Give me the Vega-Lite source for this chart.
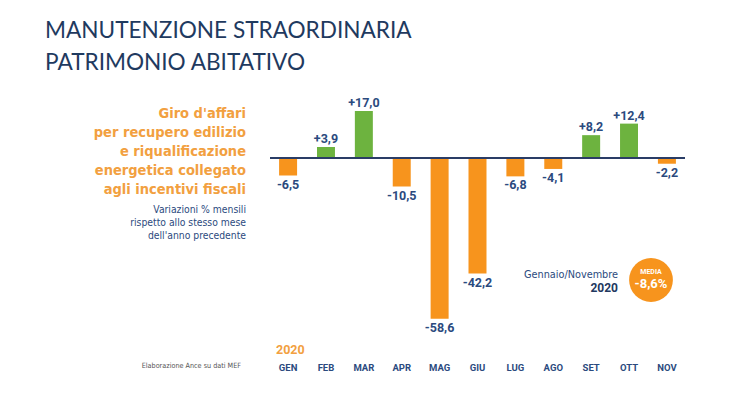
{
  "$schema": "https://vega.github.io/schema/vega-lite/v6.json",
  "autosize": "none",
  "width": 415,
  "height": 261,
  "padding": {"left": 270, "top": 89, "right": 55, "bottom": 48},
  "background": "#ffffff",
  "config": {"view": {"stroke": null}},
  "data": {"values": [
    {"month": "GEN", "value": -6.5, "lbl": "-6,5"},
    {"month": "FEB", "value": 3.9, "lbl": "+3,9"},
    {"month": "MAR", "value": 17.0, "lbl": "+17,0"},
    {"month": "APR", "value": -10.5, "lbl": "-10,5"},
    {"month": "MAG", "value": -58.6, "lbl": "-58,6"},
    {"month": "GIU", "value": -42.2, "lbl": "-42,2"},
    {"month": "LUG", "value": -6.8, "lbl": "-6,8"},
    {"month": "AGO", "value": -4.1, "lbl": "-4,1"},
    {"month": "SET", "value": 8.2, "lbl": "+8,2"},
    {"month": "OTT", "value": 12.4, "lbl": "+12,4"},
    {"month": "NOV", "value": -2.2, "lbl": "-2,2"}
  ]},
  "encoding": {
    "x": {"field": "month", "type": "nominal", "sort": null,
      "scale": {"paddingInner": 0.525, "paddingOuter": 0.24},
      "axis": {"title": null, "orient": "bottom", "domain": false, "ticks": false, "labelAngle": 0,
        "labelPadding": 12, "labelFont": "Roboto", "labelFontSize": 9.5,
        "labelFontWeight": "bold", "labelColor": "#2b4a7e"}},
    "y": {"field": "value", "type": "quantitative",
      "scale": {"domain": [-70, 25], "nice": false, "zero": true}, "axis": null}
  },
  "layer": [
    {"mark": {"type": "bar"},
     "encoding": {"color": {"condition": {"test": "datum.value >= 0", "value": "#6db33f"}, "value": "#f7941d"}}},
    {"transform": [{"filter": "datum.value >= 0"}],
     "mark": {"type": "text", "baseline": "alphabetic", "dy": -4, "font": "Roboto", "fontSize": 12.5, "fontWeight": "bold", "color": "#2b4a7e"},
     "encoding": {"text": {"field": "lbl"}}},
    {"transform": [{"filter": "datum.value < 0"}],
     "mark": {"type": "text", "baseline": "top", "dy": 3, "font": "Roboto", "fontSize": 12.5, "fontWeight": "bold", "color": "#2b4a7e"},
     "encoding": {"text": {"field": "lbl"}}},
    {"mark": {"type": "rule", "color": "#2a3d66", "strokeWidth": 1.5},
     "encoding": {"y": {"datum": 0}, "x": null}},
    {"data": {"values": [{}]},
     "mark": {"type": "text", "x": -225, "y": -51, "align": "left", "baseline": "alphabetic", "font": "Lato, Open Sans, sans-serif", "fontSize": 22.6, "lineHeight": 31.5, "color": "#1f3a5f",
       "text": ["MANUTENZIONE STRAORDINARIA", "PATRIMONIO ABITATIVO"]},
     "encoding": {"x": null, "y": null}},
    {"data": {"values": [{}]},
     "mark": {"type": "text", "x": -24, "y": 29, "align": "right", "baseline": "alphabetic", "font": "DejaVu Sans Condensed, Liberation Sans", "fontSize": 14.5, "fontWeight": "bold", "lineHeight": 19, "color": "#f2a040",
       "text": ["Giro d'affari", "per recupero edilizio", "e riqualificazione", "energetica collegato", "agli incentivi fiscali"]},
     "encoding": {"x": null, "y": null}},
    {"data": {"values": [{}]},
     "mark": {"type": "text", "x": -24, "y": 124, "align": "right", "baseline": "alphabetic", "font": "DejaVu Sans Condensed, Liberation Sans", "fontSize": 10.3, "lineHeight": 13, "color": "#2b4a7e",
       "text": ["Variazioni % mensili", "rispetto allo stesso mese", "dell'anno precedente"]},
     "encoding": {"x": null, "y": null}},
    {"data": {"values": [{}]},
     "mark": {"type": "text", "x": 6, "y": 265, "align": "left", "baseline": "alphabetic", "font": "Roboto", "fontSize": 12.5, "fontWeight": "bold", "color": "#f2a040", "text": "2020"},
     "encoding": {"x": null, "y": null}},
    {"data": {"values": [{}]},
     "mark": {"type": "text", "x": -29, "y": 279, "align": "right", "baseline": "alphabetic", "font": "DejaVu Sans Condensed, Liberation Sans", "fontSize": 7.2, "color": "#555555", "text": "Elaborazione Ance su dati MEF"},
     "encoding": {"x": null, "y": null}},
    {"data": {"values": [{}]},
     "mark": {"type": "text", "x": 348, "y": 189, "align": "right", "baseline": "alphabetic", "font": "DejaVu Sans Condensed, Liberation Sans", "fontSize": 10.8, "color": "#2b4a7e", "text": "Gennaio/Novembre"},
     "encoding": {"x": null, "y": null}},
    {"data": {"values": [{}]},
     "mark": {"type": "text", "x": 348, "y": 203, "align": "right", "baseline": "alphabetic", "font": "Roboto", "fontSize": 12, "fontWeight": "bold", "color": "#22385f", "text": "2020"},
     "encoding": {"x": null, "y": null}},
    {"data": {"values": [{}]},
     "mark": {"type": "point", "x": 381, "y": 191, "shape": "circle", "filled": true, "size": 1916, "color": "#f7941d", "opacity": 1},
     "encoding": {"x": null, "y": null}},
    {"data": {"values": [{}]},
     "mark": {"type": "text", "x": 381, "y": 182.5, "align": "center", "baseline": "middle", "font": "Roboto", "fontSize": 7, "fontWeight": "bold", "color": "#ffffff", "text": "MEDIA"},
     "encoding": {"x": null, "y": null}},
    {"data": {"values": [{}]},
     "mark": {"type": "text", "x": 381, "y": 199, "align": "center", "baseline": "alphabetic", "font": "Roboto", "fontSize": 13, "fontWeight": "bold", "color": "#ffffff", "text": "-8,6%"},
     "encoding": {"x": null, "y": null}}
  ]
}
